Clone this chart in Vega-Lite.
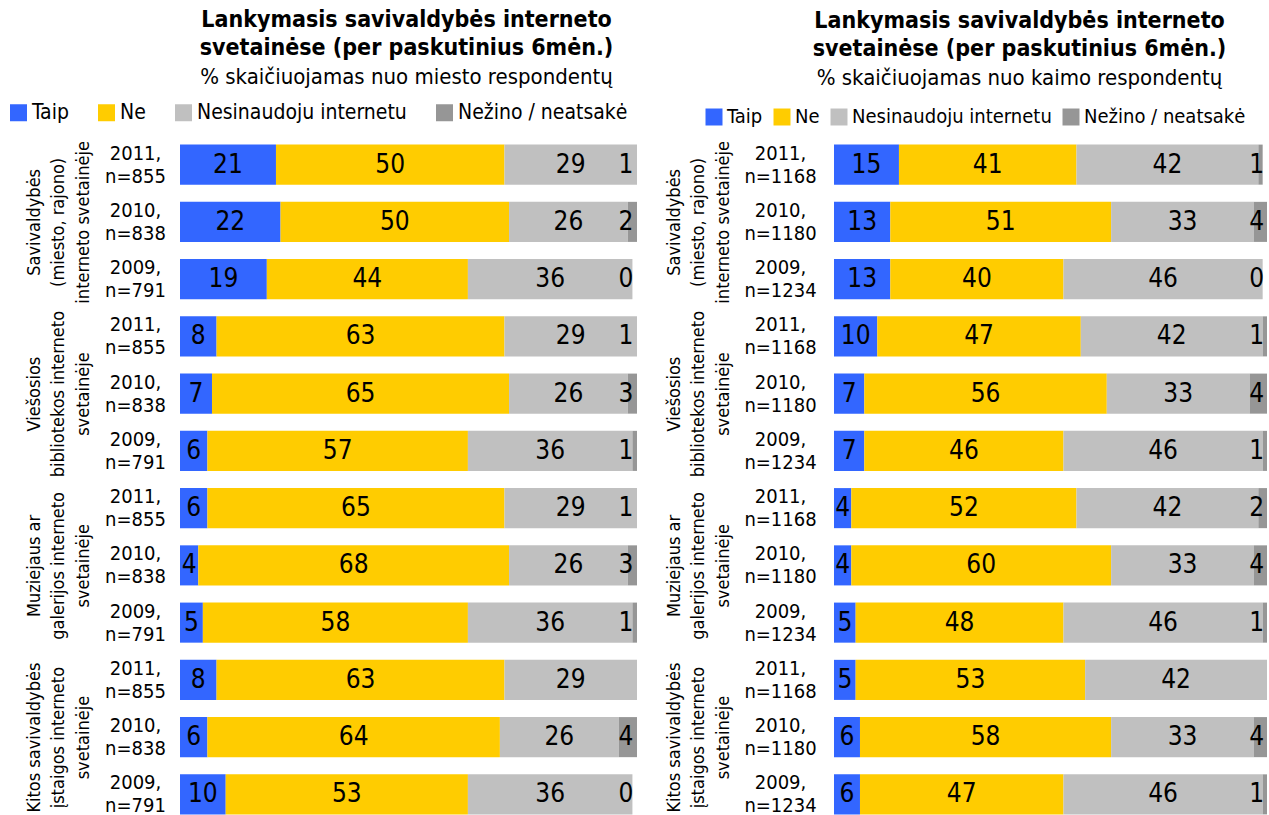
{
  "$schema": "https://vega.github.io/schema/vega-lite/v6.json",
  "background": "white",
  "padding": {"left": 8, "top": 9, "right": 0, "bottom": 0},
  "bounds": "flush",
  "spacing": 197,
  "resolve": {"scale": {"color": "independent"}, "legend": {"color": "independent"}},
  "config": {
    "view": {"stroke": null},
    "font": "DejaVu Sans Condensed",
    "axis": {"labelColor": "black", "ticks": false, "domain": false, "grid": false, "title": null, "labelFont": "DejaVu Sans Condensed"}
  },
  "datasets": {
    "miestas": [
      {"row":"01|2011,|n=855","grp":"Savivaldybės|(miesto, rajono)|interneto svetainėje","cat":"Taip","ci":1,"v":21},
      {"row":"01|2011,|n=855","grp":"Savivaldybės|(miesto, rajono)|interneto svetainėje","cat":"Ne","ci":2,"v":50},
      {"row":"01|2011,|n=855","grp":"Savivaldybės|(miesto, rajono)|interneto svetainėje","cat":"Nesinaudoju internetu","ci":3,"v":29},
      {"row":"01|2011,|n=855","grp":"Savivaldybės|(miesto, rajono)|interneto svetainėje","cat":"Nežino / neatsakė","ci":4,"v":1},
      {"row":"02|2010,|n=838","grp":"Savivaldybės|(miesto, rajono)|interneto svetainėje","cat":"Taip","ci":1,"v":22},
      {"row":"02|2010,|n=838","grp":"Savivaldybės|(miesto, rajono)|interneto svetainėje","cat":"Ne","ci":2,"v":50},
      {"row":"02|2010,|n=838","grp":"Savivaldybės|(miesto, rajono)|interneto svetainėje","cat":"Nesinaudoju internetu","ci":3,"v":26},
      {"row":"02|2010,|n=838","grp":"Savivaldybės|(miesto, rajono)|interneto svetainėje","cat":"Nežino / neatsakė","ci":4,"v":2},
      {"row":"03|2009,|n=791","grp":"Savivaldybės|(miesto, rajono)|interneto svetainėje","cat":"Taip","ci":1,"v":19},
      {"row":"03|2009,|n=791","grp":"Savivaldybės|(miesto, rajono)|interneto svetainėje","cat":"Ne","ci":2,"v":44},
      {"row":"03|2009,|n=791","grp":"Savivaldybės|(miesto, rajono)|interneto svetainėje","cat":"Nesinaudoju internetu","ci":3,"v":36},
      {"row":"03|2009,|n=791","grp":"Savivaldybės|(miesto, rajono)|interneto svetainėje","cat":"Nežino / neatsakė","ci":4,"v":0},
      {"row":"04|2011,|n=855","grp":"Viešosios|bibliotekos interneto|svetainėje","cat":"Taip","ci":1,"v":8},
      {"row":"04|2011,|n=855","grp":"Viešosios|bibliotekos interneto|svetainėje","cat":"Ne","ci":2,"v":63},
      {"row":"04|2011,|n=855","grp":"Viešosios|bibliotekos interneto|svetainėje","cat":"Nesinaudoju internetu","ci":3,"v":29},
      {"row":"04|2011,|n=855","grp":"Viešosios|bibliotekos interneto|svetainėje","cat":"Nežino / neatsakė","ci":4,"v":1},
      {"row":"05|2010,|n=838","grp":"Viešosios|bibliotekos interneto|svetainėje","cat":"Taip","ci":1,"v":7},
      {"row":"05|2010,|n=838","grp":"Viešosios|bibliotekos interneto|svetainėje","cat":"Ne","ci":2,"v":65},
      {"row":"05|2010,|n=838","grp":"Viešosios|bibliotekos interneto|svetainėje","cat":"Nesinaudoju internetu","ci":3,"v":26},
      {"row":"05|2010,|n=838","grp":"Viešosios|bibliotekos interneto|svetainėje","cat":"Nežino / neatsakė","ci":4,"v":3},
      {"row":"06|2009,|n=791","grp":"Viešosios|bibliotekos interneto|svetainėje","cat":"Taip","ci":1,"v":6},
      {"row":"06|2009,|n=791","grp":"Viešosios|bibliotekos interneto|svetainėje","cat":"Ne","ci":2,"v":57},
      {"row":"06|2009,|n=791","grp":"Viešosios|bibliotekos interneto|svetainėje","cat":"Nesinaudoju internetu","ci":3,"v":36},
      {"row":"06|2009,|n=791","grp":"Viešosios|bibliotekos interneto|svetainėje","cat":"Nežino / neatsakė","ci":4,"v":1},
      {"row":"07|2011,|n=855","grp":"Muziejaus ar|galerijos interneto|svetainėje","cat":"Taip","ci":1,"v":6},
      {"row":"07|2011,|n=855","grp":"Muziejaus ar|galerijos interneto|svetainėje","cat":"Ne","ci":2,"v":65},
      {"row":"07|2011,|n=855","grp":"Muziejaus ar|galerijos interneto|svetainėje","cat":"Nesinaudoju internetu","ci":3,"v":29},
      {"row":"07|2011,|n=855","grp":"Muziejaus ar|galerijos interneto|svetainėje","cat":"Nežino / neatsakė","ci":4,"v":1},
      {"row":"08|2010,|n=838","grp":"Muziejaus ar|galerijos interneto|svetainėje","cat":"Taip","ci":1,"v":4},
      {"row":"08|2010,|n=838","grp":"Muziejaus ar|galerijos interneto|svetainėje","cat":"Ne","ci":2,"v":68},
      {"row":"08|2010,|n=838","grp":"Muziejaus ar|galerijos interneto|svetainėje","cat":"Nesinaudoju internetu","ci":3,"v":26},
      {"row":"08|2010,|n=838","grp":"Muziejaus ar|galerijos interneto|svetainėje","cat":"Nežino / neatsakė","ci":4,"v":3},
      {"row":"09|2009,|n=791","grp":"Muziejaus ar|galerijos interneto|svetainėje","cat":"Taip","ci":1,"v":5},
      {"row":"09|2009,|n=791","grp":"Muziejaus ar|galerijos interneto|svetainėje","cat":"Ne","ci":2,"v":58},
      {"row":"09|2009,|n=791","grp":"Muziejaus ar|galerijos interneto|svetainėje","cat":"Nesinaudoju internetu","ci":3,"v":36},
      {"row":"09|2009,|n=791","grp":"Muziejaus ar|galerijos interneto|svetainėje","cat":"Nežino / neatsakė","ci":4,"v":1},
      {"row":"10|2011,|n=855","grp":"Kitos savivaldybės|įstaigos interneto|svetainėje","cat":"Taip","ci":1,"v":8},
      {"row":"10|2011,|n=855","grp":"Kitos savivaldybės|įstaigos interneto|svetainėje","cat":"Ne","ci":2,"v":63},
      {"row":"10|2011,|n=855","grp":"Kitos savivaldybės|įstaigos interneto|svetainėje","cat":"Nesinaudoju internetu","ci":3,"v":29},
      {"row":"11|2010,|n=838","grp":"Kitos savivaldybės|įstaigos interneto|svetainėje","cat":"Taip","ci":1,"v":6},
      {"row":"11|2010,|n=838","grp":"Kitos savivaldybės|įstaigos interneto|svetainėje","cat":"Ne","ci":2,"v":64},
      {"row":"11|2010,|n=838","grp":"Kitos savivaldybės|įstaigos interneto|svetainėje","cat":"Nesinaudoju internetu","ci":3,"v":26},
      {"row":"11|2010,|n=838","grp":"Kitos savivaldybės|įstaigos interneto|svetainėje","cat":"Nežino / neatsakė","ci":4,"v":4},
      {"row":"12|2009,|n=791","grp":"Kitos savivaldybės|įstaigos interneto|svetainėje","cat":"Taip","ci":1,"v":10},
      {"row":"12|2009,|n=791","grp":"Kitos savivaldybės|įstaigos interneto|svetainėje","cat":"Ne","ci":2,"v":53},
      {"row":"12|2009,|n=791","grp":"Kitos savivaldybės|įstaigos interneto|svetainėje","cat":"Nesinaudoju internetu","ci":3,"v":36},
      {"row":"12|2009,|n=791","grp":"Kitos savivaldybės|įstaigos interneto|svetainėje","cat":"Nežino / neatsakė","ci":4,"v":0}
    ],
    "kaimas": [
      {"row":"01|2011,|n=1168","grp":"Savivaldybės|(miesto, rajono)|interneto svetainėje","cat":"Taip","ci":1,"v":15},
      {"row":"01|2011,|n=1168","grp":"Savivaldybės|(miesto, rajono)|interneto svetainėje","cat":"Ne","ci":2,"v":41},
      {"row":"01|2011,|n=1168","grp":"Savivaldybės|(miesto, rajono)|interneto svetainėje","cat":"Nesinaudoju internetu","ci":3,"v":42},
      {"row":"01|2011,|n=1168","grp":"Savivaldybės|(miesto, rajono)|interneto svetainėje","cat":"Nežino / neatsakė","ci":4,"v":1},
      {"row":"02|2010,|n=1180","grp":"Savivaldybės|(miesto, rajono)|interneto svetainėje","cat":"Taip","ci":1,"v":13},
      {"row":"02|2010,|n=1180","grp":"Savivaldybės|(miesto, rajono)|interneto svetainėje","cat":"Ne","ci":2,"v":51},
      {"row":"02|2010,|n=1180","grp":"Savivaldybės|(miesto, rajono)|interneto svetainėje","cat":"Nesinaudoju internetu","ci":3,"v":33},
      {"row":"02|2010,|n=1180","grp":"Savivaldybės|(miesto, rajono)|interneto svetainėje","cat":"Nežino / neatsakė","ci":4,"v":4},
      {"row":"03|2009,|n=1234","grp":"Savivaldybės|(miesto, rajono)|interneto svetainėje","cat":"Taip","ci":1,"v":13},
      {"row":"03|2009,|n=1234","grp":"Savivaldybės|(miesto, rajono)|interneto svetainėje","cat":"Ne","ci":2,"v":40},
      {"row":"03|2009,|n=1234","grp":"Savivaldybės|(miesto, rajono)|interneto svetainėje","cat":"Nesinaudoju internetu","ci":3,"v":46},
      {"row":"03|2009,|n=1234","grp":"Savivaldybės|(miesto, rajono)|interneto svetainėje","cat":"Nežino / neatsakė","ci":4,"v":0},
      {"row":"04|2011,|n=1168","grp":"Viešosios|bibliotekos interneto|svetainėje","cat":"Taip","ci":1,"v":10},
      {"row":"04|2011,|n=1168","grp":"Viešosios|bibliotekos interneto|svetainėje","cat":"Ne","ci":2,"v":47},
      {"row":"04|2011,|n=1168","grp":"Viešosios|bibliotekos interneto|svetainėje","cat":"Nesinaudoju internetu","ci":3,"v":42},
      {"row":"04|2011,|n=1168","grp":"Viešosios|bibliotekos interneto|svetainėje","cat":"Nežino / neatsakė","ci":4,"v":1},
      {"row":"05|2010,|n=1180","grp":"Viešosios|bibliotekos interneto|svetainėje","cat":"Taip","ci":1,"v":7},
      {"row":"05|2010,|n=1180","grp":"Viešosios|bibliotekos interneto|svetainėje","cat":"Ne","ci":2,"v":56},
      {"row":"05|2010,|n=1180","grp":"Viešosios|bibliotekos interneto|svetainėje","cat":"Nesinaudoju internetu","ci":3,"v":33},
      {"row":"05|2010,|n=1180","grp":"Viešosios|bibliotekos interneto|svetainėje","cat":"Nežino / neatsakė","ci":4,"v":4},
      {"row":"06|2009,|n=1234","grp":"Viešosios|bibliotekos interneto|svetainėje","cat":"Taip","ci":1,"v":7},
      {"row":"06|2009,|n=1234","grp":"Viešosios|bibliotekos interneto|svetainėje","cat":"Ne","ci":2,"v":46},
      {"row":"06|2009,|n=1234","grp":"Viešosios|bibliotekos interneto|svetainėje","cat":"Nesinaudoju internetu","ci":3,"v":46},
      {"row":"06|2009,|n=1234","grp":"Viešosios|bibliotekos interneto|svetainėje","cat":"Nežino / neatsakė","ci":4,"v":1},
      {"row":"07|2011,|n=1168","grp":"Muziejaus ar|galerijos interneto|svetainėje","cat":"Taip","ci":1,"v":4},
      {"row":"07|2011,|n=1168","grp":"Muziejaus ar|galerijos interneto|svetainėje","cat":"Ne","ci":2,"v":52},
      {"row":"07|2011,|n=1168","grp":"Muziejaus ar|galerijos interneto|svetainėje","cat":"Nesinaudoju internetu","ci":3,"v":42},
      {"row":"07|2011,|n=1168","grp":"Muziejaus ar|galerijos interneto|svetainėje","cat":"Nežino / neatsakė","ci":4,"v":2},
      {"row":"08|2010,|n=1180","grp":"Muziejaus ar|galerijos interneto|svetainėje","cat":"Taip","ci":1,"v":4},
      {"row":"08|2010,|n=1180","grp":"Muziejaus ar|galerijos interneto|svetainėje","cat":"Ne","ci":2,"v":60},
      {"row":"08|2010,|n=1180","grp":"Muziejaus ar|galerijos interneto|svetainėje","cat":"Nesinaudoju internetu","ci":3,"v":33},
      {"row":"08|2010,|n=1180","grp":"Muziejaus ar|galerijos interneto|svetainėje","cat":"Nežino / neatsakė","ci":4,"v":4},
      {"row":"09|2009,|n=1234","grp":"Muziejaus ar|galerijos interneto|svetainėje","cat":"Taip","ci":1,"v":5},
      {"row":"09|2009,|n=1234","grp":"Muziejaus ar|galerijos interneto|svetainėje","cat":"Ne","ci":2,"v":48},
      {"row":"09|2009,|n=1234","grp":"Muziejaus ar|galerijos interneto|svetainėje","cat":"Nesinaudoju internetu","ci":3,"v":46},
      {"row":"09|2009,|n=1234","grp":"Muziejaus ar|galerijos interneto|svetainėje","cat":"Nežino / neatsakė","ci":4,"v":1},
      {"row":"10|2011,|n=1168","grp":"Kitos savivaldybės|įstaigos interneto|svetainėje","cat":"Taip","ci":1,"v":5},
      {"row":"10|2011,|n=1168","grp":"Kitos savivaldybės|įstaigos interneto|svetainėje","cat":"Ne","ci":2,"v":53},
      {"row":"10|2011,|n=1168","grp":"Kitos savivaldybės|įstaigos interneto|svetainėje","cat":"Nesinaudoju internetu","ci":3,"v":42},
      {"row":"11|2010,|n=1180","grp":"Kitos savivaldybės|įstaigos interneto|svetainėje","cat":"Taip","ci":1,"v":6},
      {"row":"11|2010,|n=1180","grp":"Kitos savivaldybės|įstaigos interneto|svetainėje","cat":"Ne","ci":2,"v":58},
      {"row":"11|2010,|n=1180","grp":"Kitos savivaldybės|įstaigos interneto|svetainėje","cat":"Nesinaudoju internetu","ci":3,"v":33},
      {"row":"11|2010,|n=1180","grp":"Kitos savivaldybės|įstaigos interneto|svetainėje","cat":"Nežino / neatsakė","ci":4,"v":4},
      {"row":"12|2009,|n=1234","grp":"Kitos savivaldybės|įstaigos interneto|svetainėje","cat":"Taip","ci":1,"v":6},
      {"row":"12|2009,|n=1234","grp":"Kitos savivaldybės|įstaigos interneto|svetainėje","cat":"Ne","ci":2,"v":47},
      {"row":"12|2009,|n=1234","grp":"Kitos savivaldybės|įstaigos interneto|svetainėje","cat":"Nesinaudoju internetu","ci":3,"v":46},
      {"row":"12|2009,|n=1234","grp":"Kitos savivaldybės|įstaigos interneto|svetainėje","cat":"Nežino / neatsakė","ci":4,"v":1}
    ]
  },
  "hconcat": [
    {
      "data": {"name": "miestas"},
      "width": 457,
      "height": 687,
      "title": {
        "text": ["Lankymasis savivaldybės interneto", "svetainėse (per paskutinius 6mėn.)"],
        "subtitle": "% skaičiuojamas nuo miesto respondentų",
        "anchor": "middle", "frame": "group", "dx": -2,
        "font": "DejaVu Sans Condensed", "fontWeight": "bold", "fontSize": 23, "lineHeight": 28, "color": "black",
        "subtitleFont": "DejaVu Sans Condensed", "subtitleFontSize": 22, "subtitleColor": "black", "subtitlePadding": 7,
        "offset": 14
      },
      "layer": [
        {
          "mark": {"type": "bar", "clip": true},
          "encoding": {
            "y": {"field": "row", "type": "nominal", "sort": null,
                  "scale": {"paddingInner": 0.3, "paddingOuter": 0.15},
                  "axis": {"labelExpr": "slice(split(datum.label,'|'),1)", "labelAlign": "center", "labelPadding": 45, "labelFontSize": 20, "labelLineHeight": 23, "labelBaseline": "middle", "labelOffset": -11}},
            "x": {"field": "v", "type": "quantitative", "stack": "zero", "scale": {"domain": [0, 100], "nice": false}, "axis": null},
            "order": {"field": "ci", "type": "quantitative"},
            "color": {"field": "cat", "type": "nominal",
                      "scale": {"domain": ["Taip", "Ne", "Nesinaudoju internetu", "Nežino / neatsakė"], "range": ["#3366FF", "#FFCC00", "#C0C0C0", "#969696"]},
                      "legend": {"orient": "none", "legendX": -172, "legendY": -34, "direction": "horizontal", "title": null,
                                 "symbolType": "square", "symbolSize": 289, "symbolStrokeWidth": 0, "labelFont": "DejaVu Sans Condensed",
                                 "labelFontSize": 21, "labelColor": "black", "labelLimit": 0, "columnPadding": 27, "labelOffset": 3}}
          }
        },
        {
          "transform": [
            {"stack": "v", "groupby": ["row"], "sort": [{"field": "ci"}], "as": ["x0", "x1"]},
            {"calculate": "min((datum.x0 + datum.x1) / 2, 97.6)", "as": "xm"}
          ],
          "mark": {"type": "text", "font": "DejaVu Sans Condensed", "fontSize": 26, "color": "black", "baseline": "middle"},
          "encoding": {
            "y": {"field": "row", "type": "nominal", "sort": null, "scale": {"paddingInner": 0.3, "paddingOuter": 0.15}, "axis": null},
            "x": {"field": "xm", "type": "quantitative", "scale": {"domain": [0, 100], "nice": false}, "axis": null},
            "text": {"field": "v", "type": "quantitative"}
          }
        },
        {
          "mark": {"type": "text", "text": ""},
          "encoding": {
            "y": {"field": "grp", "type": "nominal", "sort": null, "scale": {"paddingInner": 0, "paddingOuter": 0},
                  "axis": {"orient": "left", "offset": 137, "labelExpr": "split(datum.label,'|')", "labelAngle": -90, "labelAlign": "center", "labelBaseline": "bottom", "labelPadding": 0, "labelFontSize": 18, "labelLineHeight": 24.5, "labelLimit": 0}}
          }
        }
      ],
      "resolve": {"scale": {"y": "independent"}, "axis": {"y": "independent"}}
    },
    {
      "data": {"name": "kaimas"},
      "width": 433,
      "height": 687,
      "title": {
        "text": ["Lankymasis savivaldybės interneto", "svetainėse (per paskutinius 6mėn.)"],
        "subtitle": "% skaičiuojamas nuo kaimo respondentų",
        "anchor": "middle", "frame": "group", "dx": -31,
        "font": "DejaVu Sans Condensed", "fontWeight": "bold", "fontSize": 23, "lineHeight": 28, "color": "black",
        "subtitleFont": "DejaVu Sans Condensed", "subtitleFontSize": 22, "subtitleColor": "black", "subtitlePadding": 7,
        "offset": 18
      },
      "layer": [
        {
          "mark": {"type": "bar", "clip": true},
          "encoding": {
            "y": {"field": "row", "type": "nominal", "sort": null,
                  "scale": {"paddingInner": 0.3, "paddingOuter": 0.15},
                  "axis": {"labelExpr": "slice(split(datum.label,'|'),1)", "labelAlign": "center", "labelPadding": 54, "labelFontSize": 20, "labelLineHeight": 23, "labelBaseline": "middle", "labelOffset": -11}},
            "x": {"field": "v", "type": "quantitative", "stack": "zero", "scale": {"domain": [0, 100], "nice": false}, "axis": null},
            "order": {"field": "ci", "type": "quantitative"},
            "color": {"field": "cat", "type": "nominal",
                      "scale": {"domain": ["Taip", "Ne", "Nesinaudoju internetu", "Nežino / neatsakė"], "range": ["#3366FF", "#FFCC00", "#C0C0C0", "#969696"]},
                      "legend": {"orient": "none", "legendX": -130, "legendY": -29, "direction": "horizontal", "title": null,
                                 "symbolType": "square", "symbolSize": 289, "symbolStrokeWidth": 0, "labelFont": "DejaVu Sans Condensed",
                                 "labelFontSize": 20, "labelColor": "black", "labelLimit": 0, "columnPadding": 9, "labelOffset": 3}}
          }
        },
        {
          "transform": [
            {"stack": "v", "groupby": ["row"], "sort": [{"field": "ci"}], "as": ["x0", "x1"]},
            {"calculate": "min((datum.x0 + datum.x1) / 2, 97.6)", "as": "xm"}
          ],
          "mark": {"type": "text", "font": "DejaVu Sans Condensed", "fontSize": 26, "color": "black", "baseline": "middle"},
          "encoding": {
            "y": {"field": "row", "type": "nominal", "sort": null, "scale": {"paddingInner": 0.3, "paddingOuter": 0.15}, "axis": null},
            "x": {"field": "xm", "type": "quantitative", "scale": {"domain": [0, 100], "nice": false}, "axis": null},
            "text": {"field": "v", "type": "quantitative"}
          }
        },
        {
          "mark": {"type": "text", "text": ""},
          "encoding": {
            "y": {"field": "grp", "type": "nominal", "sort": null, "scale": {"paddingInner": 0, "paddingOuter": 0},
                  "axis": {"orient": "left", "offset": 151, "labelExpr": "split(datum.label,'|')", "labelAngle": -90, "labelAlign": "center", "labelBaseline": "bottom", "labelPadding": 0, "labelFontSize": 18, "labelLineHeight": 24.5, "labelLimit": 0}}
          }
        }
      ],
      "resolve": {"scale": {"y": "independent"}, "axis": {"y": "independent"}}
    }
  ]
}
